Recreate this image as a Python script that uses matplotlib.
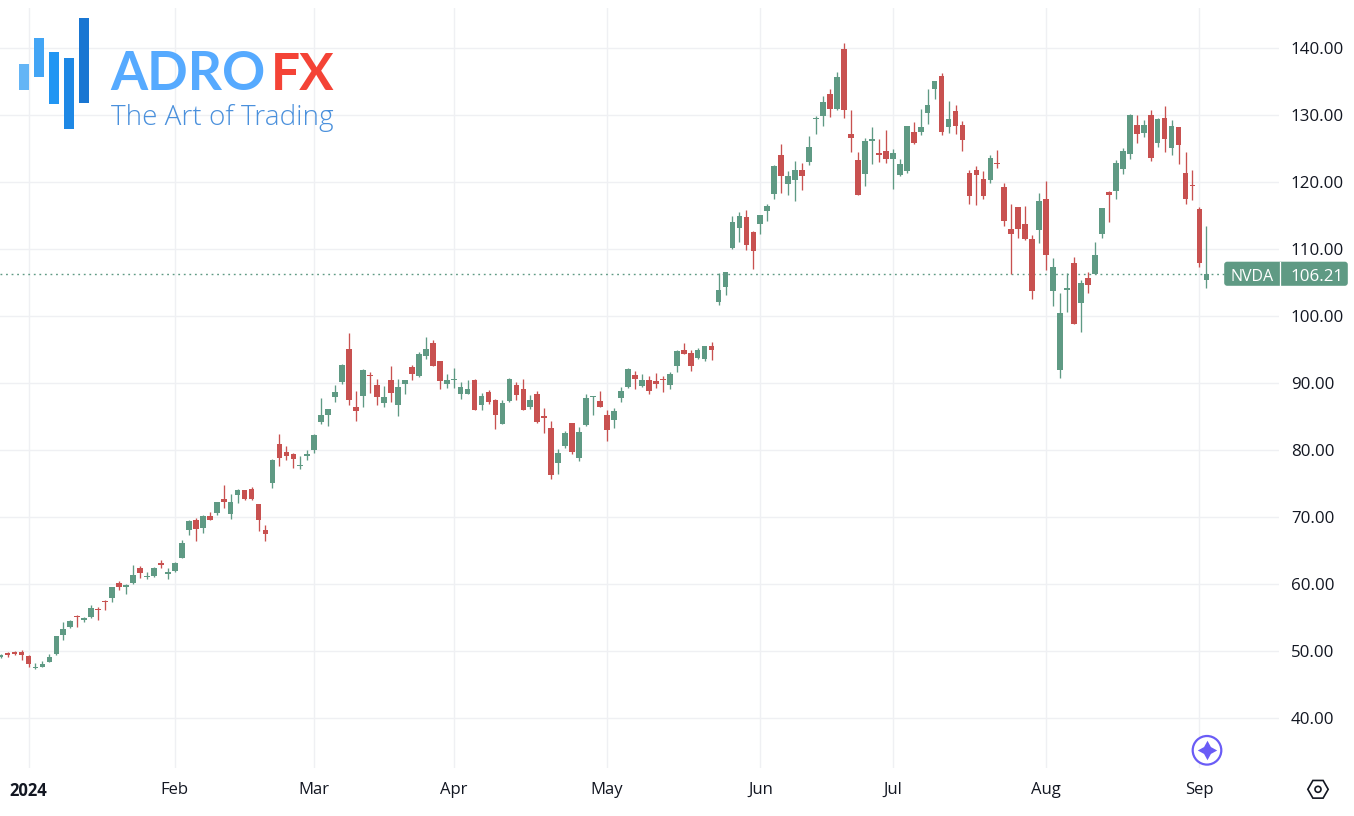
import numpy as np
import matplotlib
matplotlib.use("Agg")
import matplotlib.pyplot as plt
from matplotlib.patches import Rectangle, Circle, RegularPolygon, FancyBboxPatch

W, H = 1354, 816
plt.rcParams["font.family"] = ["Open Sans", "DejaVu Sans"]

# bars start four sessions before 2 Jan 2024
opens = [49.0, 49.65, 49.75, 49.75,
         49.25, 47.35, 47.6, 48.35, 49.45, 52.4, 53.5, 55.15, 54.55, 54.95, 56.25, 57.4, 57.9, 60.05, 59.45, 60.1, 62.3, 61.0, 61.15, 63.05, 61.5,
         61.95, 63.85, 68.05, 69.55, 68.25, 70.15, 70.5, 72.65, 70.35, 73.2, 73.9, 74.15, 71.95, 68.0, 75.0, 80.9, 79.65, 79.4, 77.55, 79.1,
         79.9, 84.1, 85.15, 87.9, 90.1, 95.05, 86.35, 87.95, 91.2, 89.65, 86.9, 90.4, 86.65, 89.8, 92.4, 91.05, 93.9, 95.85, 93.2, 89.85,
         90.35, 88.35, 88.35, 90.4, 86.7, 88.6, 87.45, 83.85, 87.3, 89.7, 89.05, 86.3, 88.35, 85.0, 83.25, 77.95, 80.6, 84.0, 78.8, 83.7, 87.8, 87.25,
         85.15, 84.45, 87.75, 89.3, 91.15, 89.45, 90.45, 90.25, 90.6, 89.6, 92.5, 94.9, 94.35, 93.65, 93.55, 95.4, 102.0, 104.3, 110.1, 113.05, 114.75, 112.55,
         113.6, 115.6, 118.2, 124.0, 119.6, 120.2, 121.7, 122.9, 129.3, 129.75, 133.05, 130.85, 139.75, 127.05, 123.25, 121.1, 126.05, 124.2, 124.55,
         123.35, 120.95, 121.55, 127.35, 127.35, 130.2, 133.85, 135.7, 128.15, 130.5, 128.4, 121.3, 121.8, 120.35, 120.2, 122.85, 119.15, 112.9, 116.15, 113.7, 111.4, 112.8,
         117.45, 103.65, 91.95, 103.8, 107.8, 101.85, 105.55, 106.15, 112.25, 118.5, 118.65, 121.85, 124.1, 128.4, 127.2, 130.0, 125.75, 129.55, 125.0, 128.1, 121.3, 119.55,
         115.95, 105.3]
closes = [49.3, 49.4, 49.55, 49.4,
          48.05, 47.55, 47.95, 49.1, 52.25, 53.15, 54.35, 54.95, 54.8, 56.4, 56.0, 57.2, 59.5, 59.55, 59.85, 61.35, 61.55, 61.2, 62.4, 62.8, 61.7,
          63.05, 66.1, 69.4, 68.1, 70.15, 69.5, 72.15, 72.2, 72.15, 73.9, 72.6, 72.6, 69.45, 67.35, 78.5, 78.7, 79.1, 78.65, 77.75, 79.3,
          82.25, 85.2, 86.0, 88.65, 92.7, 87.45, 85.7, 91.95, 90.95, 87.85, 87.8, 88.4, 89.4, 90.45, 91.35, 94.3, 95.05, 92.45, 90.2, 90.45,
          90.5, 89.4, 89.0, 85.85, 88.05, 87.05, 85.2, 87.0, 90.6, 88.2, 85.9, 87.4, 84.1, 84.7, 76.15, 79.5, 82.5, 79.6, 82.7, 87.7, 87.95, 86.35,
          83.0, 85.8, 88.8, 92.1, 90.55, 90.4, 88.7, 89.8, 90.45, 91.35, 94.7, 94.3, 92.45, 94.8, 95.5, 94.9, 103.85, 106.45, 114.0, 114.85, 110.5, 109.6,
          115.05, 116.4, 122.4, 120.9, 120.9, 121.7, 120.8, 125.1, 129.55, 131.85, 130.85, 135.55, 130.7, 126.45, 118.0, 126.0, 126.3, 124.0, 123.35,
          124.3, 122.6, 128.25, 125.7, 128.15, 131.4, 135.0, 127.35, 129.3, 128.25, 126.25, 117.9, 120.95, 117.8, 123.5, 122.7, 114.15, 112.15, 113.0, 111.4, 103.7, 117.05,
          109.1, 107.2, 100.35, 104.1, 98.75, 104.9, 104.5, 109.0, 116.05, 117.95, 122.8, 124.55, 130.0, 127.05, 128.5, 123.55, 129.3, 126.3, 128.25, 125.5, 117.45, 119.4,
          107.85, 106.21]
highs = [49.5, 49.8, 49.9, 50.05,
         49.3, 48.15, 48.5, 49.55, 52.25, 54.3, 54.6, 55.3, 55.05, 56.85, 56.5, 57.6, 59.55, 60.4, 59.9, 62.85, 62.7, 61.8, 62.45, 63.5, 62.3,
         63.15, 66.55, 69.55, 69.8, 70.3, 70.75, 72.25, 74.65, 73.4, 74.15, 74.0, 74.45, 71.95, 68.8, 78.6, 82.4, 80.6, 79.5, 79.0, 79.9,
         82.3, 87.7, 86.1, 89.7, 92.75, 97.4, 88.75, 92.0, 91.65, 90.55, 89.55, 92.45, 90.6, 90.45, 92.7, 94.6, 96.8, 96.4, 93.25, 91.3,
         92.25, 90.1, 90.45, 90.5, 88.45, 88.95, 87.55, 87.45, 90.7, 90.15, 90.55, 88.15, 88.8, 86.2, 84.3, 80.1, 82.75, 84.0, 83.3, 88.3, 88.05, 88.8,
         85.95, 86.2, 89.35, 92.2, 91.75, 91.25, 91.0, 91.5, 91.0, 91.6, 94.9, 95.85, 94.8, 95.2, 95.5, 96.05, 106.35, 106.5, 114.9, 115.45, 115.8, 112.65,
         115.05, 116.65, 122.45, 125.55, 121.65, 123.05, 122.85, 126.85, 129.8, 132.8, 133.8, 136.3, 140.75, 130.65, 124.4, 126.45, 128.1, 126.3, 127.65,
         124.8, 123.35, 128.25, 128.85, 130.8, 133.8, 135.0, 136.15, 132.0, 131.4, 129.0, 121.8, 122.4, 121.55, 124.0, 124.65, 119.85, 116.6, 116.15, 116.3, 112.0, 118.3,
         120.15, 108.65, 103.4, 106.35, 108.75, 105.35, 106.45, 110.95, 116.1, 118.55, 123.2, 124.95, 130.05, 129.9, 129.25, 130.75, 129.55, 131.25, 129.15, 128.2, 124.4, 121.7,
         116.15, 113.3]
lows = [48.9, 49.1, 49.4, 48.65,
        47.6, 47.25, 47.5, 48.25, 49.35, 51.65, 53.4, 53.45, 54.3, 54.9, 54.6, 56.1, 57.3, 59.1, 58.5, 59.95, 60.8, 60.65, 60.95, 62.3, 60.75,
        61.7, 63.75, 67.2, 66.3, 67.55, 69.45, 70.25, 71.25, 69.6, 72.0, 72.45, 72.55, 67.8, 66.3, 74.2, 77.55, 78.5, 77.2, 77.1, 78.45,
        79.5, 83.8, 83.5, 87.1, 89.75, 86.6, 84.2, 86.3, 88.5, 86.6, 86.3, 87.05, 85.05, 88.25, 90.45, 90.85, 93.55, 92.45, 89.1, 89.25,
        89.25, 87.6, 88.35, 85.85, 85.9, 86.75, 83.05, 83.75, 87.05, 87.45, 85.9, 86.1, 84.0, 82.5, 75.6, 76.4, 80.3, 79.3, 78.25, 83.5, 85.2, 86.35,
        81.25, 83.25, 87.1, 89.15, 89.0, 89.4, 88.25, 89.25, 88.55, 89.0, 91.65, 94.3, 91.8, 93.55, 93.2, 93.3, 101.55, 103.05, 109.95, 111.05, 109.75, 107.0,
        112.15, 114.15, 117.45, 118.3, 117.95, 117.05, 118.7, 122.45, 127.05, 128.25, 129.6, 130.65, 129.5, 124.35, 118.0, 119.35, 122.65, 122.9, 122.75,
        118.9, 120.9, 121.3, 125.6, 126.95, 128.55, 132.35, 126.95, 127.2, 127.05, 124.5, 116.7, 116.45, 117.35, 119.8, 122.1, 113.4, 106.2, 111.55, 111.3, 102.55, 110.8,
        106.75, 101.4, 90.65, 100.5, 98.75, 97.5, 103.4, 106.15, 111.55, 113.95, 117.4, 121.1, 123.35, 125.8, 126.65, 123.05, 125.1, 124.35, 123.95, 122.65, 116.65, 117.2,
        107.25, 104.1]

month_bars = [0, 21, 41, 61, 83, 105, 124, 146, 168]
month_labels = ["2024", "Feb", "Mar", "Apr", "May", "Jun", "Jul", "Aug", "Sep"]
price_ticks = [40, 50, 60, 70, 80, 90, 100, 110, 120, 130, 140]
last_price = 106.21

UP = "#5f9a84"
DOWN = "#c85150"
GRID = "#eff0f3"
TEXT = "#131722"

o = np.array(opens)
c = np.array(closes)
h = np.array(highs)
l = np.array(lows)
x = np.arange(len(o)) - 4
up = c >= o
colors = np.where(up, UP, DOWN)

fig = plt.figure(figsize=(W / 100, H / 100), dpi=100, facecolor="white")

# plot area is 0..1279 px across, 8..768 px down
ax = fig.add_axes([0, (H - 768) / H, 1279 / W, 760 / H])
px_bar = 6.97
px_usd = 6.7
ax.set_xlim(-28.5 / px_bar, (1279 - 28.5) / px_bar)
ax.set_ylim(140 - (768 - 47.6) / px_usd, 140 - (8 - 47.6) / px_usd)

ax.vlines(x, l, h, colors=colors, linewidth=0.95, zorder=3)
ax.bar(x, np.maximum(np.abs(c - o), 0.15), bottom=np.minimum(o, c), width=0.82,
       color=colors, linewidth=0, zorder=4)
ax.axhline(last_price, color=UP, linewidth=1.0, linestyle=(0, (1.3, 2.7)), zorder=2)

ax.set_xticks(month_bars)
ax.set_xticklabels(month_labels, fontsize=12, color=TEXT)
ax.get_xticklabels()[0].set_fontweight("bold")
ax.set_yticks(price_ticks)
ax.set_yticklabels(["%.2f" % p for p in price_ticks], fontsize=12.2, color=TEXT)
ax.yaxis.tick_right()
ax.tick_params(axis="both", length=0)
ax.tick_params(axis="x", pad=10)
ax.tick_params(axis="y", pad=8.5)
ax.grid(True, color=GRID, linewidth=1.0, zorder=0)
ax.set_axisbelow(True)
for s in ax.spines.values():
    s.set_visible(False)

# overlay in pixel coordinates for the logo, price tags and icons
ov = fig.add_axes([0, 0, 1, 1], facecolor="none")
ov.set_xlim(0, W)
ov.set_ylim(H, 0)
ov.axis("off")

logo_bars = [(19, 64, 10.3, 26.3, "#64b5f6"),
             (34, 38, 10.3, 39, "#42a5f5"),
             (49, 52.3, 10, 51.4, "#2196f3"),
             (63.7, 57.7, 10, 71, "#1e88e5"),
             (78.7, 18, 10, 85.3, "#1976d2")]
for bx, by, bw, bh, col in logo_bars:
    ov.add_patch(Rectangle((bx, by), bw, bh, facecolor=col, linewidth=0))
ov.text(110, 90, "ADRO", fontsize=38.5, fontweight="bold", family="Lato", color="#56aaff", va="baseline")
ov.text(270.5, 90, "FX", fontsize=37, fontweight="bold", family="Lato", color="#f44336", va="baseline")
ov.text(111, 125, "The Art of Trading", fontsize=20.1, fontweight="light", family="Open Sans", color="#4a90dc", va="baseline")

# last price tags: rounded on the outer corners, white seam between them
ov.add_patch(FancyBboxPatch((1226, 263.5), 120, 20.5, boxstyle="round,pad=1.8,rounding_size=3",
                            facecolor=UP, linewidth=0, zorder=5))
ov.plot([1279.7, 1279.7], [261.5, 286], color="white", linewidth=0.9, zorder=6)
ov.text(1252, 275, "NVDA", fontsize=11.5, fontweight="medium", color="white", ha="center", va="center_baseline", zorder=6)
ov.text(1317, 275, "%.2f" % last_price, fontsize=12.2, fontweight="medium", color="white", ha="center", va="center_baseline", zorder=6)

# purple spark badge and settings hexagon
ov.add_patch(Circle((1207, 750.3), 14.3, facecolor="white", edgecolor="#6a5cf6", linewidth=1.6, zorder=5))
ov.plot([1207], [750.3], marker=(4, 1, 0), markersize=14, color="#6a5cf6", markeredgewidth=0, zorder=6)
ov.add_patch(RegularPolygon((1318, 789.3), 6, radius=10.2, orientation=np.pi / 6, facecolor="none",
                            edgecolor=TEXT, linewidth=1.2))
ov.add_patch(Circle((1318, 789.3), 3, facecolor="none", edgecolor=TEXT, linewidth=1.2))

fig.savefig("out.png", dpi=100)
